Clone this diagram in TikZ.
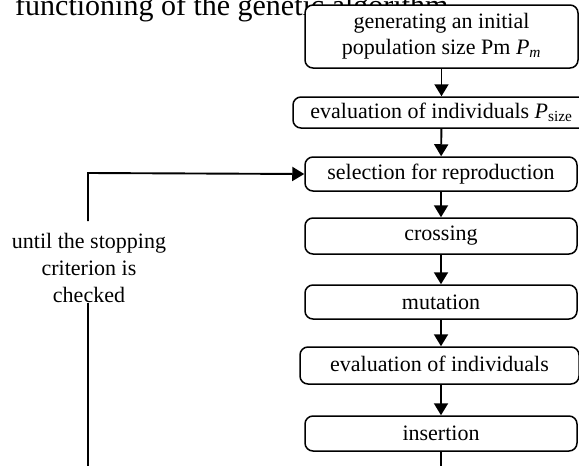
\documentclass[tikz,border=0pt]{standalone}
\usepackage{fontspec}
\setmainfont{Liberation Serif}
\usetikzlibrary{arrows.meta,positioning}

\begin{document}
\begin{tikzpicture}[x=1pt,y=-1pt,
  stage/.style={draw, rounded corners=8pt, line width=1.5pt, fill=white,
    align=center, inner sep=0pt, font=\fontsize{22}{26}\selectfont},
  flow/.style={-{Triangle[length=12pt,width=14pt]}, line width=1.9pt},
  link/.style={line width=1.9pt}]
  \useasboundingbox (0,0) rectangle (579,466);
  \clip (0,0) rectangle (579,466);
  % title, cut at the top of the page
  \node[anchor=base west, inner sep=0pt, font=\fontsize{30}{34}\selectfont] (title) at (15,15)
    {functioning of the genetic algorithm};
  % the stages
  \node[stage, minimum width=273pt, minimum height=63pt] (init) at (441.5,36.5)
    {generating an initial\\population size Pm \textit{P}\textsubscript{\textit{m}}};
  \node[stage, minimum width=297pt, minimum height=31pt] (eval) at (441.5,112.5)
    {evaluation of individuals \textit{P}\textsubscript{size}};
  \node[stage, minimum width=272pt, minimum height=34pt] (sel) at (441,174)
    {selection for reproduction};
  \node[stage, minimum width=272pt, minimum height=36pt] (cross) at (441,236) {crossing};
  \node[stage, minimum width=272pt, minimum height=34pt] (mut) at (441,302) {mutation};
  \node[stage, minimum width=279pt, minimum height=37pt] (evalb) at (439.5,365.5)
    {\raisebox{3pt}{evaluation of individuals}};
  \node[stage, minimum width=272pt, minimum height=35pt] (ins) at (441,433.5) {insertion};
  \draw[flow] (init) -- (eval);
  \draw[flow] (eval) -- (sel);
  \draw[flow] (sel) -- (cross);
  \draw[flow] (cross) -- (mut);
  \draw[flow] (mut) -- (evalb.north -| mut.south);
  \draw[flow] (evalb.south -| ins.north) -- (ins);
  \coordinate (out) at (441,470);
  \draw[link] (ins) -- (out);
  % loop back
  \node[align=center, inner sep=0pt, font=\fontsize{22}{27}\selectfont] (crit) at (89,268)
    {until the stopping\\criterion is\\checked};
  \coordinate (back) at (88,470);
  \coordinate (turn) at (88,173);
  \draw[link] (back) -- (back |- crit.south);
  \draw[flow] ([yshift=12pt]crit.north -| turn) -- (turn) -- (sel.west);
\end{tikzpicture}
\end{document}
